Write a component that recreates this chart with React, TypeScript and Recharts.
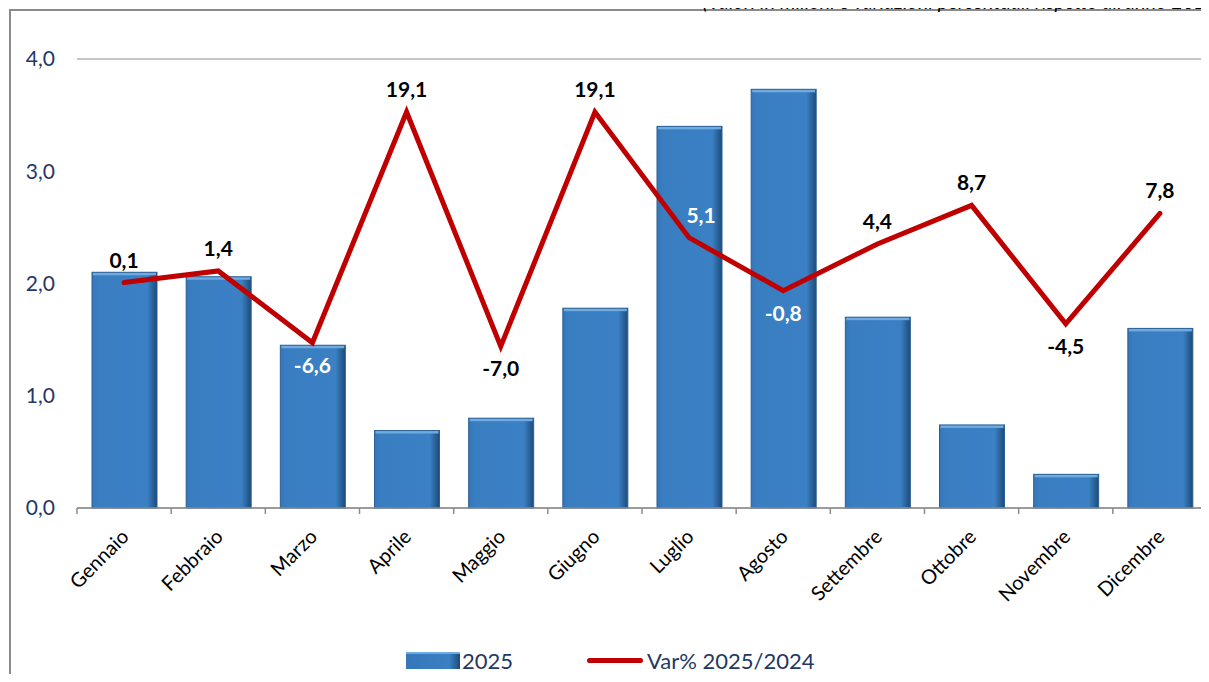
import React from "react";
import { Bar, CartesianGrid, ComposedChart, LabelList, Legend, Line, XAxis, YAxis } from "recharts";

const months = ["Gennaio", "Febbraio", "Marzo", "Aprile", "Maggio", "Giugno", "Luglio", "Agosto", "Settembre", "Ottobre", "Novembre", "Dicembre"];
const values2025 = [2.1, 2.06, 1.45, 0.69, 0.8, 1.78, 3.4, 3.73, 1.7, 0.74, 0.3, 1.6];
const varPct = [0.1, 1.4, -6.6, 19.1, -7.0, 19.1, 5.1, -0.8, 4.4, 8.7, -4.5, 7.8];
const yTicks = [0, 1, 2, 3, 4];

// where each line label sits: a = above, b = below; w = white text
const labelPlace = ["a", "a", "bw", "a", "b", "a", "aw", "bw", "a", "a", "b", "a"];

const W = 1209;
const H = 682;
const PLOT_L = 77;
const PLOT_R = 1207;
const BAND = (PLOT_R - PLOT_L) / months.length;
const FONT = "Lato, 'Open Sans', sans-serif";
const NAVY = "#1F3864";
const RED = "#C00000";

const data = months.map((m, i) => ({ month: m, v: values2025[i], pct: varPct[i] }));

const fmt = (v: number) => v.toFixed(1).replace(".", ",");

const BarShape = (p: any) => {
  const { x, y, width, height } = p;
  if (!height || height <= 0) return null;
  return (
    <g>
      <rect x={x} y={y} width={width} height={height} fill="url(#barGrad)" />
      <rect x={x + 1} y={y} width={width - 2} height={3} fill="#6FAAE0" />
      <rect x={x} y={y} width={width} height={height} fill="none" stroke="#2C5F92" strokeWidth={1} />
    </g>
  );
};

const XTick = (p: any) => {
  const { x, y, payload, index } = p;
  const half = BAND / 2;
  return (
    <g>
      <line x1={x - half} y1={y - 8} x2={x - half} y2={y - 2} stroke="#8c8c8c" strokeWidth={1.5} />
      {index === months.length - 1 && (
        <line x1={x + half} y1={y - 8} x2={x + half} y2={y - 2} stroke="#8c8c8c" strokeWidth={1.5} />
      )}
      <text
        x={x + 6}
        y={y + 22}
        transform={`rotate(-45 ${x + 6} ${y + 22})`}
        textAnchor="end"
        fontSize={20}
        fontFamily={FONT}
        fill="#000"
      >
        {payload.value}
      </text>
    </g>
  );
};

const PctLabel = (p: any) => {
  const { x, y, value, index } = p;
  const place = labelPlace[index] || "a";
  const below = place[0] === "b";
  const white = place.includes("w");
  const dx = index === 6 ? 12 : 0;
  return (
    <text
      x={x + dx}
      y={below ? y + 30 : y - 15}
      textAnchor="middle"
      fontSize={21}
      fontWeight={700}
      fontFamily={FONT}
      fill={white ? "#fff" : "#000"}
    >
      {fmt(value)}
    </text>
  );
};

const LegendBox = () => (
  <div
    style={{
      display: "flex",
      alignItems: "center",
      fontFamily: FONT,
      fontSize: 22,
      color: NAVY,
      paddingLeft: 406,
      height: 30,
    }}
  >
    <span
      style={{
        display: "inline-block",
        width: 54,
        height: 17,
        background: "linear-gradient(90deg,#3577b9,#3b80c4 80%,#1c4a78)",
        borderTop: "2px solid #6FAAE0",
        boxSizing: "border-box",
      }}
    />
    <span style={{ marginLeft: 2 }}>2025</span>
    <span
      style={{ display: "inline-block", width: 56, height: 5, background: RED, borderRadius: 3, marginLeft: 74 }}
    />
    <span style={{ marginLeft: 4 }}>Var% 2025/2024</span>
  </div>
);

export default function App() {
  return (
    <div style={{ position: "relative", width: W, height: H, overflow: "hidden", margin: -8, background: "#fff" }}>
      <div
        style={{
          position: "absolute",
          left: 9,
          top: 9,
          right: -5,
          bottom: -5,
          borderTop: "2px solid #8a8a8a",
          borderLeft: "2px solid #8a8a8a",
        }}
      />
      <div
        style={{
          position: "absolute",
          right: -14,
          top: -9,
          fontFamily: FONT,
          fontStyle: "italic",
          fontSize: 20,
          lineHeight: "20px",
          color: "#000",
          whiteSpace: "nowrap",
        }}
      >
        (Valori in milioni e variazioni percentuali rispetto all'anno 2024)
      </div>
      <div style={{ position: "absolute", left: 0, top: 0 }}>
        <ComposedChart
          width={W}
          height={H}
          data={data}
          margin={{ top: 59, right: W - PLOT_R, bottom: 7, left: 0 }}
        >
          <defs>
            <linearGradient id="barGrad" x1="0" y1="0" x2="1" y2="0">
              <stop offset="0%" stopColor="#3576b8" />
              <stop offset="10%" stopColor="#3a7ec2" />
              <stop offset="85%" stopColor="#3b80c4" />
              <stop offset="100%" stopColor="#1d4b79" />
            </linearGradient>
          </defs>
          <CartesianGrid vertical={false} stroke="#8c8c8c" strokeWidth={1} />
          <XAxis
            dataKey="month"
            axisLine={{ stroke: "#8c8c8c", strokeWidth: 1.5 }}
            tickLine={false}
            tick={<XTick />}
            interval={0}
            height={137}
          />
          <YAxis
            yAxisId="left"
            domain={[0, 4]}
            ticks={yTicks}
            width={PLOT_L}
            axisLine={false}
            tickLine={false}
            tickSize={0}
            tickMargin={22}
            tickFormatter={fmt}
            tick={{ fontSize: 21, fontFamily: FONT, fill: NAVY }}
          />
          <YAxis yAxisId="right" orientation="right" domain={[-25, 25]} width={0} hide />
          <Bar yAxisId="left" dataKey="v" name="2025" barSize={65} shape={<BarShape />} isAnimationActive={false} />
          <Line
            yAxisId="right"
            dataKey="pct"
            name="Var% 2025/2024"
            type="linear"
            stroke={RED}
            strokeWidth={5}
            strokeLinecap="round"
            strokeLinejoin="miter"
            dot={false}
            activeDot={false}
            isAnimationActive={false}
          >
            <LabelList dataKey="pct" content={<PctLabel />} />
          </Line>
          <Legend verticalAlign="bottom" content={<LegendBox />} />
        </ComposedChart>
      </div>
    </div>
  );
}
